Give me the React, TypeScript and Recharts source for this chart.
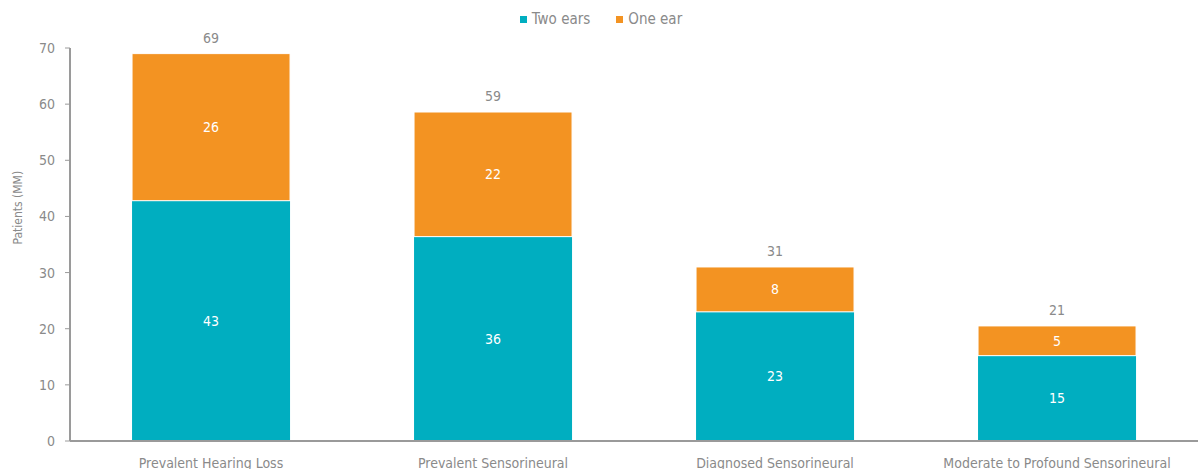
import React from 'react';
import { BarChart, Bar, XAxis, YAxis, Legend, LabelList } from 'recharts';

const categories = ['Prevalent Hearing Loss', 'Prevalent Sensorineural', 'Diagnosed Sensorineural', 'Moderate to Profound Sensorineural'];
const twoEars = [42.8, 36.4, 23.0, 15.2];
const oneEar = [26.2, 22.2, 8.0, 5.3];
const yTicks = [0, 10, 20, 30, 40, 50, 60, 70];
const seriesNames = ['Two ears', 'One ear'];

const TEAL = '#00aec0';
const ORANGE = '#f39322';
const GREY = '#8a8a8a';
const FONT = "'DejaVu Sans Condensed', 'DejaVu Sans', sans-serif";

const data = categories.map((name, i) => ({
  name,
  two: twoEars[i],
  one: oneEar[i],
  total: twoEars[i] + oneEar[i],
}));

const TotalLabel = (props: any) => {
  const { x, y, width, index } = props;
  return (
    <text x={x + width / 2} y={y - 11} textAnchor="middle" fill={GREY} fontSize={14} fontFamily={FONT}>
      {Math.round(data[index].total)}
    </text>
  );
};

// legend drawn by hand so the order stays Two ears, One ear
const LegendContent = () => (
  <div style={{ display: 'flex', justifyContent: 'center', gap: 26, fontSize: 15, color: GREY, fontFamily: FONT }}>
    {seriesNames.map((n, i) => (
      <span key={n} style={{ display: 'flex', alignItems: 'center' }}>
        <span style={{ width: 7, height: 7, background: i === 0 ? TEAL : ORANGE, marginRight: 5, display: 'inline-block' }} />
        {n}
      </span>
    ))}
  </div>
);

export default function App() {
  return (
    <div style={{ position: 'absolute', left: 0, top: 0, background: '#fff' }}>
      <BarChart
        width={1200}
        height={469}
        data={data}
        margin={{ top: 30, right: 2, left: 8, bottom: 0 }}
        barCategoryGap="22%"
        style={{ fontFamily: FONT }}
      >
        <XAxis
          dataKey="name"
          height={28}
          tickLine={false}
          axisLine={{ stroke: '#9a9a9a', strokeWidth: 2 }}
          tick={{ fill: GREY, fontSize: 14, dy: 9 }}
          interval={0}
        />
        <YAxis
          width={62}
          domain={[0, 70]}
          ticks={yTicks}
          tickSize={5}
          tickLine={{ stroke: '#9a9a9a' }}
          axisLine={{ stroke: '#9a9a9a', strokeWidth: 2 }}
          tick={{ fill: GREY, fontSize: 14, dx: -8 }}
          label={{ value: 'Patients (MM)', angle: -90, position: 'insideLeft', offset: 10, fill: GREY, fontSize: 12 }}
        />
        <Legend verticalAlign="top" align="center" content={LegendContent} wrapperStyle={{ top: 10, left: 6 }} />
        <Bar dataKey="two" name="Two ears" stackId="a" fill={TEAL} isAnimationActive={false}>
          <LabelList dataKey="two" position="center" fill="#fff" fontSize={14} formatter={(v: number) => Math.round(v)} />
        </Bar>
        <Bar dataKey="one" name="One ear" stackId="a" fill={ORANGE} stroke="#ffffff" strokeWidth={1} isAnimationActive={false}>
          <LabelList dataKey="one" position="center" fill="#fff" fontSize={14} formatter={(v: number) => Math.round(v)} />
          <LabelList dataKey="total" content={TotalLabel} />
        </Bar>
      </BarChart>
    </div>
  );
}
